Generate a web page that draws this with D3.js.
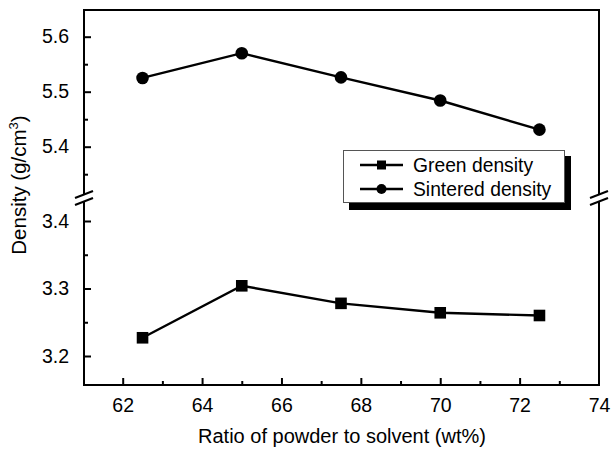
<!DOCTYPE html>
<html><head><meta charset="utf-8">
<script src="https://cdn.jsdelivr.net/npm/d3@7"></script>
<style>
html,body{margin:0;padding:0;background:#fff;}
svg{display:block;font-family:"Liberation Sans",Arial,sans-serif;}
</style></head>
<body>
<svg id="chart" width="611" height="450"></svg>
<script>
const ratios = [62.5, 65, 67.5, 70, 72.5];
const greenDensity = [3.227, 3.304, 3.278, 3.264, 3.260];
const sinteredDensity = [5.525, 5.570, 5.526, 5.484, 5.431];
const xTicks = [62, 64, 66, 68, 70, 72, 74];
const xMinor = [63, 65, 67, 69, 71, 73];
const yUpperTicks = [5.4, 5.5, 5.6];
const yUpperMinor = [5.35, 5.45, 5.55];
const yLowerTicks = [3.2, 3.3, 3.4];
const yLowerMinor = [3.25, 3.35];
const seriesNames = ["Green density", "Sintered density"];

const svg = d3.select("#chart");
const L = 84, R = 599, T = 10, B = 385;
const breakUp = 194.5, breakLo = 201.5;

const x = d3.scaleLinear().domain([61, 74]).range([83, 599]);
const yUp = d3.scaleLinear().domain([5.4, 5.6]).range([146.7, 36.7]);
const yLo = d3.scaleLinear().domain([3.2, 3.3]).range([356, 288.5]);

// frame
const frame = svg.append("g").attr("stroke", "#000").attr("stroke-width", 2).attr("fill", "none");
frame.append("line").attr("x1", L).attr("x2", R).attr("y1", T).attr("y2", T);
frame.append("line").attr("x1", L - 1).attr("x2", R + 1).attr("y1", B).attr("y2", B);
[L, R].forEach(xx => {
  frame.append("line").attr("x1", xx).attr("x2", xx).attr("y1", T - 1).attr("y2", breakUp);
  frame.append("line").attr("x1", xx).attr("x2", xx).attr("y1", breakLo).attr("y2", B + 1);
  [breakUp, breakLo].forEach(yy => {
    frame.append("line").attr("x1", xx - 9).attr("x2", xx + 9)
      .attr("y1", yy + 3.5).attr("y2", yy - 3.5).attr("stroke-width", 2);
  });
});

// axes
function styleAxis(g) {
  g.select(".domain").remove();
  g.selectAll(".tick line").attr("stroke", "#000").attr("stroke-width", 2);
  g.selectAll(".tick text").attr("fill", "#000").attr("font-size", 19.5)
    .attr("font-family", "Liberation Sans, Arial, sans-serif");
}
const gx = svg.append("g").attr("transform", `translate(0,${B})`)
  .call(d3.axisBottom(x).tickValues(xTicks).tickSize(-7).tickPadding(13).tickFormat(d3.format("d")));
styleAxis(gx);
gx.selectAll(".tick").filter(d => d === 74).select("line").remove();
const gxm = svg.append("g").attr("transform", `translate(0,${B})`)
  .call(d3.axisBottom(x).tickValues(xMinor).tickSize(-4).tickFormat(""));
styleAxis(gxm);

function yAxis(scale, major, minor) {
  const g = svg.append("g").attr("transform", `translate(${L},0)`)
    .call(d3.axisLeft(scale).tickValues(major).tickSize(-7).tickPadding(15).tickFormat(d3.format(".1f")));
  styleAxis(g);
  const gm = svg.append("g").attr("transform", `translate(${L},0)`)
    .call(d3.axisLeft(scale).tickValues(minor).tickSize(-4).tickFormat(""));
  styleAxis(gm);
}
yAxis(yUp, yUpperTicks, yUpperMinor);
yAxis(yLo, yLowerTicks, yLowerMinor);

// titles
svg.append("text").attr("x", 342).attr("y", 443).attr("text-anchor", "middle")
  .attr("font-size", 20).attr("fill", "#000").text("Ratio of powder to solvent (wt%)");
const yt = svg.append("text").attr("transform", "translate(26,185) rotate(-90)")
  .attr("text-anchor", "middle").attr("font-size", 20.5).attr("fill", "#000");
yt.append("tspan").text("Density (g/cm");
yt.append("tspan").attr("font-size", 13).attr("dy", -8).text("3");
yt.append("tspan").attr("dy", 8).text(")");

// data
const line = d3.line();
const sPts = ratios.map((r, i) => [x(r), yUp(sinteredDensity[i])]);
const gPts = ratios.map((r, i) => [x(r), yLo(greenDensity[i])]);
svg.append("path").attr("d", line(sPts)).attr("fill", "none").attr("stroke", "#000").attr("stroke-width", 2.4);
svg.append("path").attr("d", line(gPts)).attr("fill", "none").attr("stroke", "#000").attr("stroke-width", 2.4);
svg.selectAll("circle.s").data(sPts).enter().append("circle")
  .attr("cx", d => d[0]).attr("cy", d => d[1]).attr("r", 6.3).attr("fill", "#000");
svg.selectAll("rect.g").data(gPts).enter().append("rect")
  .attr("x", d => d[0] - 5.8).attr("y", d => d[1] - 5.8).attr("width", 11.6).attr("height", 11.6).attr("fill", "#000");

// legend
const lg = svg.append("g");
lg.append("rect").attr("x", 349).attr("y", 156).attr("width", 222).attr("height", 54).attr("fill", "#000");
lg.append("rect").attr("x", 343.5).attr("y", 150.5).attr("width", 221).attr("height", 52)
  .attr("fill", "#fff").attr("stroke", "#555").attr("stroke-width", 1);
const rows = [165, 189];
rows.forEach((ry, i) => {
  lg.append("line").attr("x1", 360).attr("x2", 403).attr("y1", ry).attr("y2", ry)
    .attr("stroke", "#000").attr("stroke-width", 2.4);
  if (i === 0) lg.append("rect").attr("x", 377).attr("y", ry - 4.5).attr("width", 9).attr("height", 9).attr("fill", "#000");
  else lg.append("circle").attr("cx", 381.5).attr("cy", ry).attr("r", 5).attr("fill", "#000");
  lg.append("text").attr("x", 413).attr("y", ry + 6.5).attr("font-size", 19.3).attr("fill", "#000").text(seriesNames[i]);
});
</script>
</body></html>
